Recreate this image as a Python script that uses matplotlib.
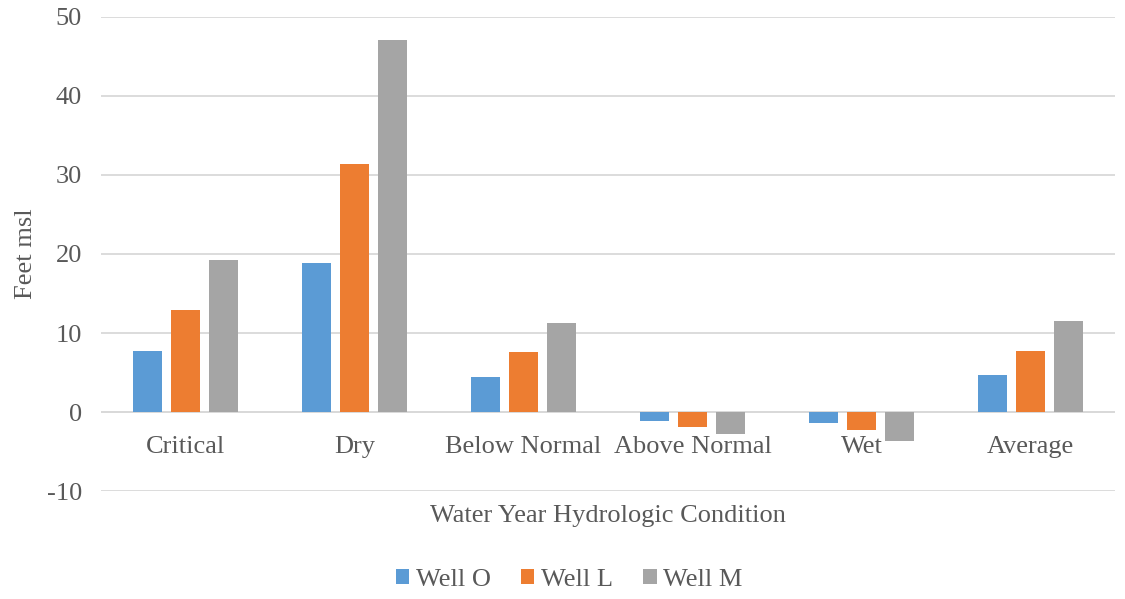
import numpy as np
import matplotlib.pyplot as plt
from matplotlib.ticker import FuncFormatter

plt.rcParams['font.family'] = ['Liberation Serif', 'DejaVu Serif']

categories = ['Critical', 'Dry', 'Below Normal', 'Above Normal', 'Wet', 'Average']
well_o = [7.7, 18.8, 4.5, -1.1, -1.4, 4.7]
well_l = [12.9, 31.4, 7.6, -1.9, -2.3, 7.7]
well_m = [19.3, 47.1, 11.3, -2.8, -3.6, 11.5]

series = [('Well O', well_o, '#5b9bd5'),
          ('Well L', well_l, '#ed7d31'),
          ('Well M', well_m, '#a5a5a5')]

txt = '#595959'
fs = 19

fig = plt.figure(figsize=(11.25, 5.99), dpi=100)
ax = fig.add_axes([0.09, 0.18, 0.901, 0.792])

x = np.arange(len(categories))
w = 0.172
step = 0.225
for i, (name, vals, col) in enumerate(series):
    ax.bar(x + (i - 1) * step, vals, w, color=col, label=name, zorder=3)

ax.set_xlim(-0.5, len(categories) - 0.5)
ax.set_ylim(-10, 50)
ax.set_yticks(range(-10, 51, 10))
ax.yaxis.set_major_formatter(FuncFormatter(lambda v, p: '%d' % v))
ax.yaxis.grid(True, color='#d9d9d9', linewidth=1.3, zorder=0)
ax.axhline(0, color='#d9d9d9', linewidth=1.3, zorder=2)
for s in ax.spines.values():
    s.set_visible(False)
ax.tick_params(axis='y', length=0, labelsize=fs, colors=txt, pad=14)
ax.set_xticks([])

# category labels hang just under the zero line
for xi, c in zip(x, categories):
    ax.text(xi, -3.0, c, ha='center', va='top', fontsize=fs, color=txt)

ax.set_xlabel('Water Year Hydrologic Condition', fontsize=fs, color=txt, labelpad=10)
ax.set_ylabel('Feet msl', fontsize=fs, color=txt, labelpad=7)

fig.legend(*ax.get_legend_handles_labels(), loc='center', bbox_to_anchor=(0.506, 0.032),
           ncol=3, frameon=False, fontsize=fs, handlelength=0.5, handleheight=0.5,
           handletextpad=0.25, columnspacing=1.15, labelcolor=txt)

fig.savefig('out.png', dpi=100)
